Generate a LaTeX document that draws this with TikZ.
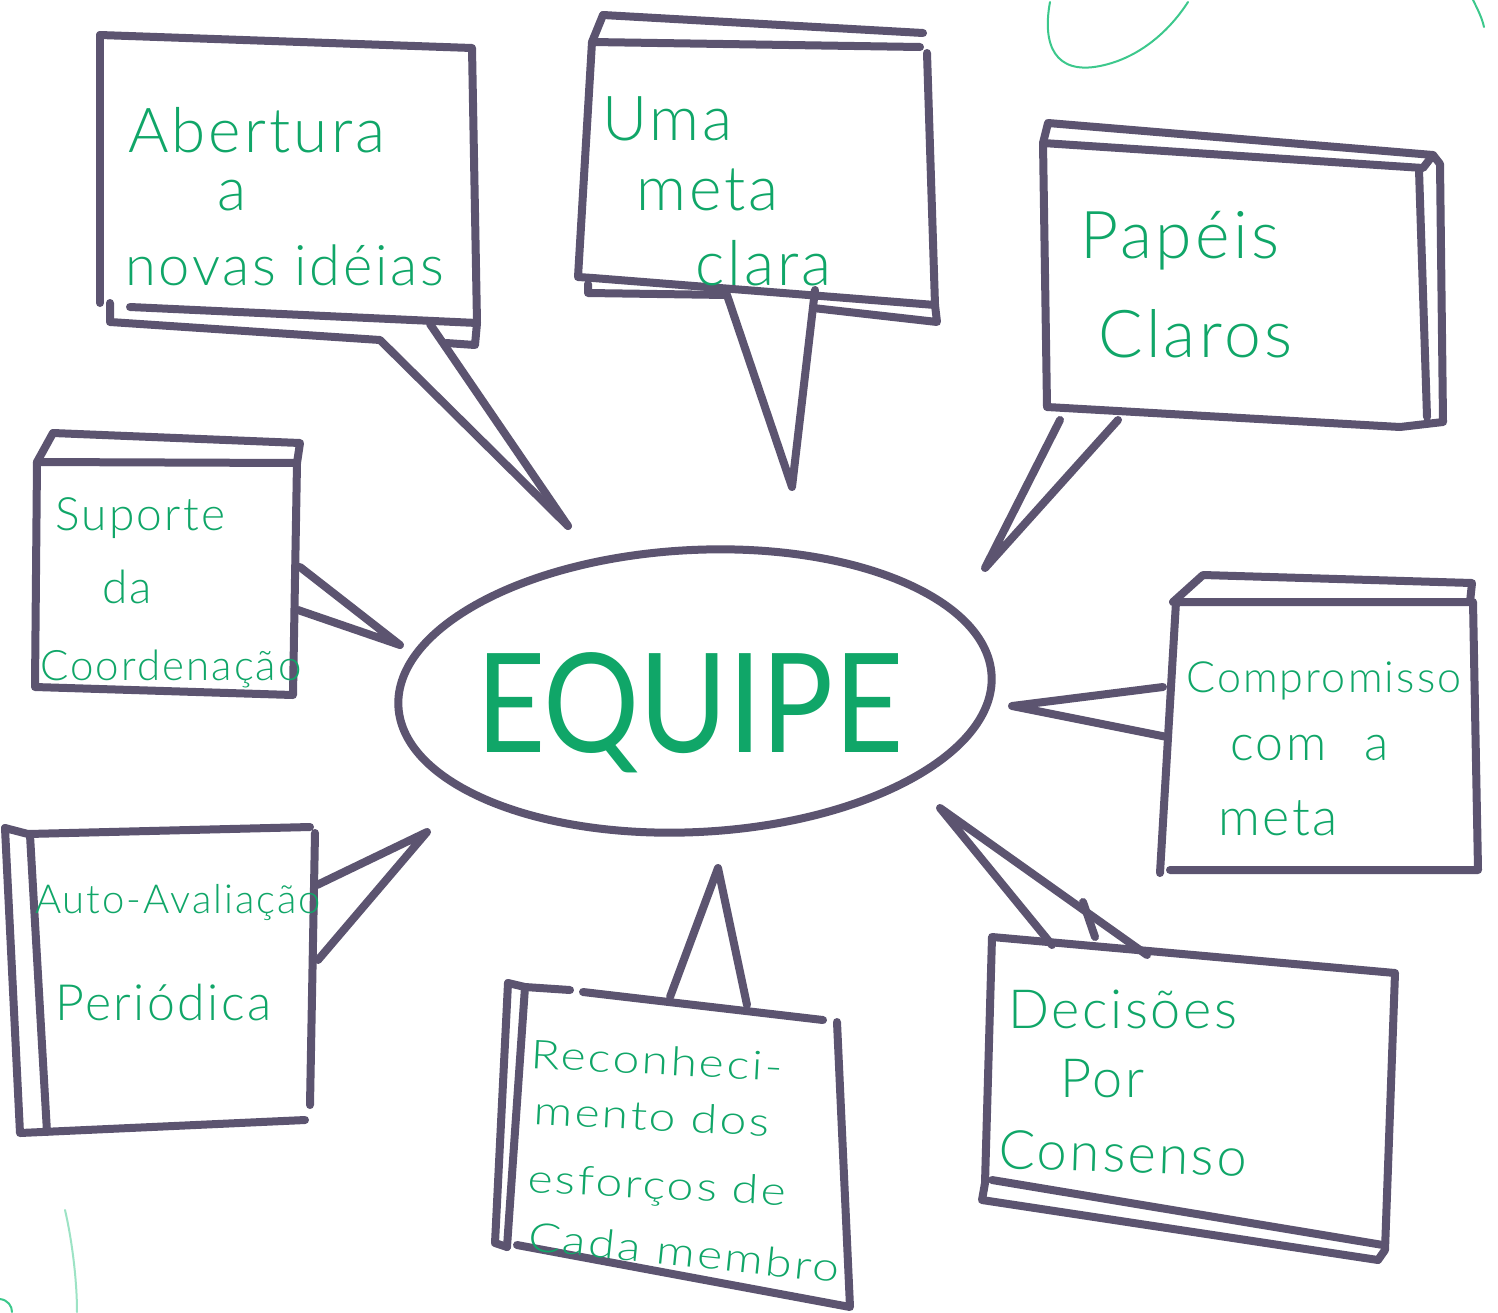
\documentclass[tikz,border=0pt]{standalone}
\usepackage{fontspec}
\usetikzlibrary{shapes.geometric}
\IfFontExistsTF{Lato Light}{\newfontfamily\handfont{Lato Light}[LetterSpace=5]}{\newfontfamily\handfont{Lato}[LetterSpace=5]}
\newfontfamily\bigfont{Lato}
\definecolor{framec}{RGB}{92,84,112}
\definecolor{greenc}{RGB}{16,166,104}
\definecolor{palegreen}{RGB}{60,200,140}
\tikzset{
  frame/.style={draw=framec, line width=8pt, line cap=round, line join=round},
  txt/.style={text=greenc, inner sep=0pt, anchor=base west, font=\handfont\fontsize{#1}{#1}\selectfont},
  txt/.default=50,
  stray/.style={draw=palegreen, line width=2pt, line cap=round}
}
\begin{document}
\begin{tikzpicture}[x=1pt,y=-1pt]
\useasboundingbox[fill=white] (0,0) rectangle (1498,1312);

% ---------- centre ----------
\node[ellipse, frame, minimum width=594pt, minimum height=282pt, rotate=3] (equipe) at (695,691) {};
\node[text=greenc, inner sep=0pt, anchor=base west, font=\bigfont\fontsize{138}{138}\selectfont] (eqtext) at (476,752) {\scalebox{0.87}[1]{EQUIPE}};

% ---------- tips of the pointers ----------
\coordinate (tip1) at (568,526);
\coordinate (tip2) at (792,487);
\coordinate (tip3) at (985,568);
\coordinate (tip4) at (400,645);
\coordinate (tip5) at (1012,706);
\coordinate (tip6) at (427,832);
\coordinate (tip7) at (718,868);
\coordinate (tip8) at (940,808);

% ---------- box 1: Abertura ----------
\coordinate (b1a) at (380,340);
\coordinate (b1b) at (430,324);
\draw[frame] (100,35) -- (472,48) -- (477,323) -- (130,307);
\draw[frame] (100,35) -- (100,303);
\draw[frame] (110,303) -- (110,322) -- (b1a) -- (tip1);
\draw[frame] (b1b) -- (tip1);
\draw[frame] (446,343) -- (475,345) -- (477,323);
\node[txt=62] (t1a) at (128,152) {Abertura};
\node[txt=60] (t1b) at (217,210) {a};
\node[txt=56] (t1c) at (125,285) {novas idéias};

% ---------- box 2: Uma meta clara ----------
\coordinate (b2a) at (727,295);
\coordinate (b2b) at (815,290);
\draw[frame] (603,15) -- (923,33);
\draw[frame] (603,15) -- (592,42) -- (920,47);
\draw[frame] (592,42) -- (578,277) -- (593,278) -- (935,305) -- (927,53);
\draw[frame] (588,284) -- (588,293) -- (b2a) -- (tip2) -- (b2b);
\draw[frame] (813,308) -- (937,322) -- (935,305);
\node[txt=62] (t2a) at (602,140) {Uma};
\node[txt=62] (t2b) at (636,210) {meta};
\node[txt=62] (t2c) at (695,285) {clara};

% ---------- box 3: Papeis claros ----------
\coordinate (b3a) at (1060,420);
\coordinate (b3b) at (1118,420);
\draw[frame] (1048,123) -- (1433,155) -- (1440,164) -- (1443,422) -- (1400,427) -- (1047,407) -- (1043,143) -- (1048,123);
\draw[frame] (1043,143) -- (1423,168) -- (1433,155);
\draw[frame] (1419,170) -- (1427,417);
\draw[frame] (b3a) -- (tip3) -- (b3b);
\node[txt=66] (t3a) at (1080,258) {Papéis};
\node[txt=66] (t3b) at (1098,357) {Claros};

% ---------- box 4: Suporte da Coordenacao ----------
\coordinate (b4a) at (300,567);
\coordinate (b4b) at (298,610);
\draw[frame] (53,433) -- (300,443) -- (297,463) -- (37,462) -- (53,433);
\draw[frame] (37,462) -- (35,687) -- (293,695) -- (297,463);
\draw[frame] (b4a) -- (tip4) -- (b4b);
\node[txt=46] (t4a) at (55,530) {Suporte};
\node[txt=46] (t4b) at (102,603) {da};
\node[txt=42] (t4c) at (40,680) {Coordenação};

% ---------- box 5: Compromisso com a meta ----------
\coordinate (b5a) at (1163,687);
\coordinate (b5b) at (1167,737);
\draw[frame] (1203,575) -- (1472,583) -- (1470,602) -- (1173,602) -- (1203,575);
\draw[frame] (1176,602) -- (1160,873);
\draw[frame] (1473,602) -- (1478,870) -- (1170,870);
\draw[frame] (b5a) -- (tip5) -- (b5b);
\node[txt=43] (t5a) at (1186,692) {Compromisso};
\node[txt=50] (t5b) at (1230,760) {com\hspace{38pt}a};
\node[txt=52] (t5c) at (1218,835) {meta};

% ---------- box 6: Auto-Avaliacao Periodica ----------
\coordinate (b6a) at (317,885);
\coordinate (b6b) at (318,960);
\draw[frame] (5,828) -- (20,1133) -- (305,1120);
\draw[frame] (5,828) -- (28,834) -- (310,827);
\draw[frame] (30,835) -- (47,1132);
\draw[frame] (315,833) -- (310,1105);
\draw[frame] (b6a) -- (tip6) -- (b6b);
\node[txt=40] (t6a) at (35,913) {Auto-Avaliação};
\node[txt=50] (t6b) at (55,1020) {Periódica};

% ---------- box 7: Reconhecimento ----------
\coordinate (b7a) at (670,997);
\coordinate (b7b) at (747,1005);
\draw[frame] (508,983) -- (525,987) -- (570,990);
\draw[frame] (583,992) -- (823,1020);
\draw[frame] (508,983) -- (495,1243) -- (507,1247);
\draw[frame] (525,987) -- (507,1247);
\draw[frame] (837,1022) -- (850,1307) -- (517,1245);
\draw[frame] (b7a) -- (tip7) -- (b7b);
\node[txt=40, rotate=-3] (t7a) at (530,1068) {\scalebox{1.2}[1]{Reconheci-}};
\node[txt=40, rotate=-3] (t7b) at (533,1124) {\scalebox{1.2}[1]{mento dos}};
\node[txt=40, rotate=-3] (t7c) at (527,1192) {\scalebox{1.2}[1]{esforços de}};
\node[txt=40, rotate=-6] (t7d) at (527,1250) {\scalebox{1.2}[1]{Cada\hspace{14pt}membro}};

% ---------- box 8: Decisoes por consenso ----------
\coordinate (b8a) at (1052,945);
\coordinate (b8b) at (1147,955);
\draw[frame] (992,937) -- (1395,973) -- (1385,1250) -- (1378,1260) -- (982,1200) -- (985,1183) -- (992,937);
\draw[frame] (992,1180) -- (1383,1245);
\draw[frame] (b8a) -- (tip8) -- (b8b);
\draw[frame] (1083,902) -- (1095,937);
\node[txt=54] (t8a) at (1008,1028) {Decisões};
\node[txt=54] (t8b) at (1060,1097) {Por};
\node[txt=54, rotate=-2] (t8c) at (998,1168) {Consenso};

% ---------- stray pen marks ----------
\draw[stray] (1050,2) .. controls (1042,45) and (1055,75) .. (1100,66) .. controls (1140,58) and (1170,30) .. (1188,2);
\draw[stray] (1473,0) .. controls (1478,10) and (1482,18) .. (1484,27);
\draw[stray, opacity=0.5] (65,1210) .. controls (72,1240) and (77,1280) .. (77,1312);
\draw[stray] (0,1299) .. controls (8,1300) and (12,1306) .. (12,1312);
\end{tikzpicture}
\end{document}
